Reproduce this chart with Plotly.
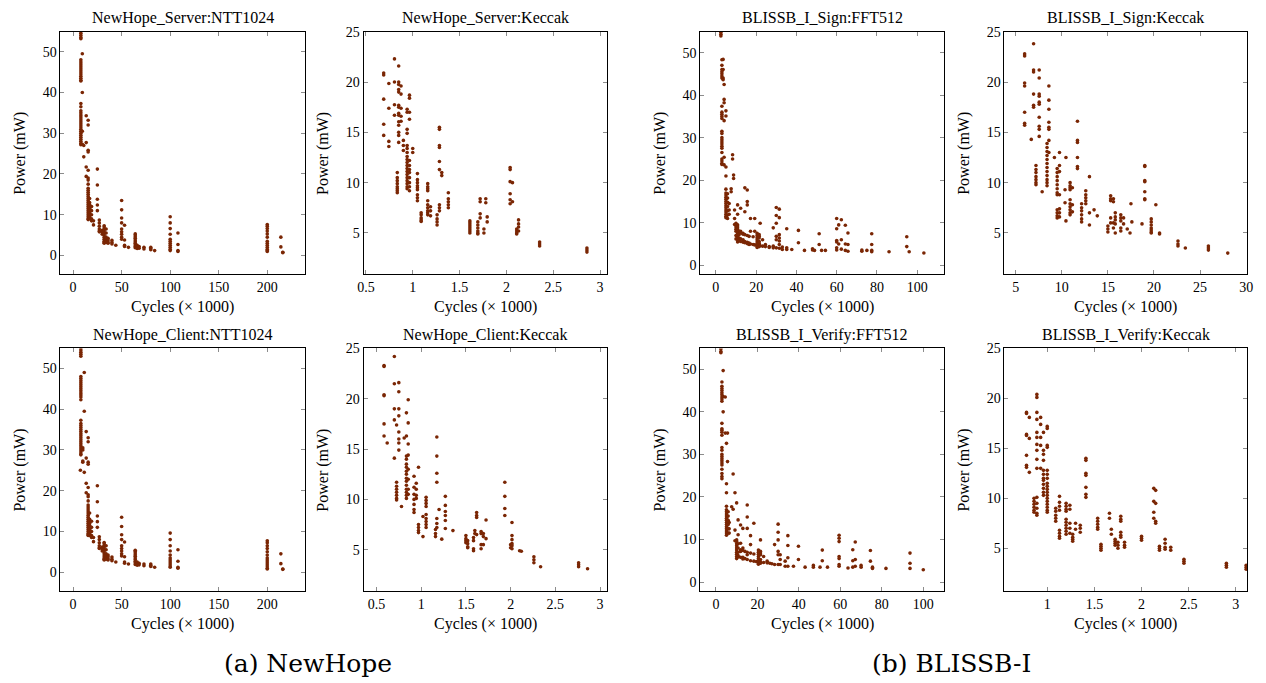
import plotly.graph_objects as go

# ---------------- data (columns: x position, list of power values) ----------------
NH_SERVER_NTT_X = [8, 9.5, 11, 13.5, 15.5, 17, 19, 21, 25, 27, 30, 32, 34, 36, 40, 44, 50, 53, 57,
                   64, 66, 68, 73, 80, 84, 100, 108, 200, 214, 216]
NH_SERVER_NTT_Y = [
    [55, 54.5, 54, 53.5, 53.2, 48, 47.5, 47, 46.5, 46, 45.5, 45, 44.5, 44, 43.5, 43, 42.8, 37.3, 36.5, 35.5,
     35, 34.5, 34, 33.5, 33, 32.5, 32, 31.5, 31, 30.5, 30, 29.5, 29, 28.5, 28, 27.5, 27.2],
    [49.5, 40, 30.5, 27.3],
    [24.2, 27],
    [34.3, 27.7, 21.7, 19.4],
    [33.2, 32, 25.8, 25.4, 20.9, 19, 18.5, 17.5, 16.5, 16, 15.5, 15, 14.5, 14, 13.5, 13, 12.5, 12, 11.5,
     11, 10.5, 10, 9.5, 9.0, 8.8],
    [14, 13, 12.5, 12, 11.5, 11, 10.5, 10, 9.5, 9],
    [12, 11, 10, 9, 8.5],
    [8.5, 7.5],
    [21.2, 17.3, 13.8, 12.4, 11],
    [8.7, 8, 7.2, 6.5, 6, 5.8],
    [6.2, 5.7, 5.2],
    [7.3, 7, 6.5, 6, 5.5, 5, 4.5, 4, 3.5, 3.2, 3],
    [6.5, 5.5, 4.5, 4, 3.5, 3.2],
    [4.2, 3.8, 3.3, 3],
    [3.7, 3.2, 2.8],
    [2.5],
    [13.5, 11.2, 9.2, 8, 6.5, 5.8, 5.2, 4.5, 4],
    [7.4, 3.8, 2.5, 2.2],
    [2.0],
    [5.3, 5.0, 4.6, 4.2, 3.8, 3.4, 3.0, 2.6, 2.2, 1.9],
    [2.5, 2.0, 1.7],
    [2.2, 1.8],
    [2.0, 1.6],
    [2.0, 1.7, 1.4],
    [1.2],
    [9.5, 8, 6.6, 5.2, 4, 3.5, 3, 2.5, 2, 1.5, 1.2],
    [5.5, 2.7, 1.2, 1.0],
    [7.6, 7.2, 6.6, 6.0, 5.3, 4.5, 3.5, 3.0, 2.5, 2.0, 1.5, 1.2, 1.0],
    [4.5, 2.1],
    [0.8, 0.7],
]

NH_SERVER_KEC_X = [0.69, 0.745, 0.805, 0.835, 0.85, 0.875, 0.9, 0.94, 0.965, 1.0, 1.05, 1.09, 1.16, 1.19,
                   1.26, 1.285, 1.31, 1.38, 1.61, 1.695, 1.72, 1.76, 1.78, 1.795, 2.04, 2.065, 2.11, 2.13,
                   2.355, 2.86]
NH_SERVER_KEC_Y = [
    [20.9, 20.7, 18.3, 15.8, 14.7],
    [19.85, 17.4, 14.1, 13.6],
    [22.3, 20.0, 17.75, 16.7],
    [11.0, 10.5, 10.2, 9.9, 9.6, 9.4, 9.2, 9.0],
    [21.6, 20.0, 19.75, 19.25, 19.0, 17.7, 17.5, 16.9, 16.7, 16.05, 15.7, 15.0, 14.7, 14.0],
    [19.6, 18.8, 17.4, 16.6, 16.1],
    [14.2, 13.7, 13.2],
    [17.3, 17.0, 15.3, 14.9, 13.7, 13.4, 13.0, 12.6, 12.3, 12.0, 11.7, 11.4, 11.1, 10.8, 10.5, 10.2, 9.9,
     9.6, 9.4],
    [18.7, 18.4, 17.0, 16.3, 12.2, 11.7, 11.3, 11.0, 10.5, 10.0, 9.6, 9.2],
    [13.4, 13.0],
    [10.9, 10.3, 10.0, 9.7, 9.5, 9.3, 8.8, 8.5, 8.2],
    [7.0, 6.8, 6.5, 6.3, 6.15],
    [9.9, 9.6, 9.4, 9.2, 8.2, 7.8, 7.5, 7.2, 7.0, 6.8],
    [7.6, 7.2, 6.7],
    [6.8, 6.4, 6.1, 5.8],
    [15.5, 15.3, 13.7, 13.5, 12.1, 11.3, 7.8, 7.5, 7.2],
    [11.0, 10.7],
    [9.0, 8.4, 8.1, 7.8, 7.5],
    [6.2, 6.0, 5.8, 5.6, 5.4, 5.2, 5.0],
    [6.1, 5.8, 5.5, 5.2, 5.0, 4.9],
    [8.4, 8.1, 6.9, 6.5],
    [5.4, 5.0],
    [8.4, 8.0],
    [6.6, 6.1],
    [11.5, 11.3, 10.1, 8.9, 8.3, 7.9],
    [10.0, 8.1],
    [5.4, 5.2, 5.0, 4.9],
    [6.3, 5.9, 5.6, 5.2],
    [4.1, 3.9, 3.7],
    [3.5, 3.3, 3.1],
]

BLISS_SIGN_FFT_X = [2.5, 3.0, 3.6, 4.1, 5.0, 5.8, 6.6, 7.6, 8.3, 8.8, 9.3, 10.0, 10.8, 11.5, 12.3, 13.5,
                    14.4, 15.6, 16.5, 17.2, 18.5, 19.3, 20.5, 21.5, 22.0, 23.2, 24.6, 26.5, 28.5, 30.0,
                    31.5, 33.0, 35.2, 37.7, 41.0, 44.0, 48.0, 49.0, 51.3, 52.5, 54.4, 60.0, 61.0, 62.3,
                    64.3, 65.6, 72.5, 75.0, 77.4, 86.0, 94.8, 96.0, 103.3]
BLISS_SIGN_FFT_Y = [
    [54.8, 54.3, 53.9],
    [48.3, 47.0, 46.0, 45.5, 45.0, 44.5, 44.0, 37.4, 36.0, 35.5, 35.0, 34.5, 31.5, 31.0, 30.0, 29.5, 29.0,
     28.5, 28.0, 27.5, 26.5, 25.0, 24.5, 24.0, 23.7],
    [48.4, 46.0, 44.0, 43.6],
    [42.5, 39.0, 38.2, 34.0, 25.4, 23.6],
    [36.3, 35.1, 23.1, 21.0, 17.9, 17.0, 16.5, 16.0, 15.5, 15.0, 14.5, 14.0, 13.5, 13.0, 12.5, 12.0, 11.5,
     11.2],
    [16.8, 15.8, 14.8, 13.8, 12.8, 11.8, 11.0],
    [14.5, 13.0, 12.0],
    [18.0, 17.3],
    [26.0, 25.0],
    [21.2, 20.4],
    [13.0, 11.0, 9.6],
    [9.9, 9.5, 9.0, 8.5, 8.0, 7.0, 6.2],
    [14.2, 12.0, 9.5, 9.0, 8.5, 8.0, 7.5, 7.0, 6.5, 6.0, 5.5],
    [8.0, 7.2, 6.4, 5.8],
    [13.4, 8.0, 7.6, 6.2, 5.6],
    [7.5, 7.3, 6.0, 5.4],
    [18.2, 12.6, 7.2, 5.6, 5.3],
    [17.7, 15.0, 14.2, 7.0, 5.4, 5.1],
    [6.8, 5.2, 4.9],
    [11.0, 8.0, 5.0],
    [6.7, 4.9],
    [11.0, 8.0, 4.8],
    [7.5, 7.0, 6.5, 6.0, 5.5, 5.0, 4.5, 4.2],
    [7.2, 6.8, 6.4, 5.6, 5.2, 4.8, 4.4],
    [9.9, 4.6],
    [6.0, 4.5],
    [4.9, 4.4],
    [4.4, 4.2],
    [8.8, 4.5, 4.1],
    [13.6, 11.7, 9.9, 6.8, 6.0, 4.1],
    [13.2, 11.2, 7.2, 6.4, 5.7, 4.9, 4.0],
    [4.3, 3.7],
    [8.6, 4.1, 3.7],
    [3.7],
    [8.2, 5.3],
    [3.5],
    [3.9, 3.6],
    [3.5],
    [7.4, 4.9],
    [3.5],
    [3.5],
    [11.0, 8.6, 5.8, 5.5, 4.1, 3.6],
    [9.5, 5.0],
    [10.7, 6.0, 3.8],
    [9.4, 5.0, 3.5],
    [7.6, 4.9, 3.3],
    [3.6, 3.3],
    [3.5],
    [7.4, 4.9, 3.5, 3.2],
    [3.2],
    [6.7, 4.4],
    [3.2],
    [2.9],
]

BLISS_SIGN_KEC_X = [5.97, 6.69, 6.94, 7.2, 7.55, 7.87, 8.4, 8.6, 9.2, 9.5, 9.75, 10.35, 10.45, 10.9, 11.15,
                    11.7, 12.15, 12.6, 13.0, 13.5, 13.85, 15.0, 15.3, 15.6, 15.8, 16.4, 16.7, 17.1, 17.4,
                    17.5, 17.6, 18.7, 19.0, 19.7, 20.2, 20.6, 22.6, 23.4, 25.9, 28.0]
BLISS_SIGN_KEC_Y = [
    [22.8, 22.6, 19.9, 19.6, 17.0, 15.9, 15.7],
    [14.3],
    [23.8, 21.2, 21.0, 18.8, 17.7, 17.5],
    [11.7, 11.3, 11.0, 10.6, 10.3, 10.0, 9.8],
    [21.2, 20.4, 18.8, 18.6, 18.0, 17.8, 16.5, 15.6, 15.3, 14.6],
    [9.1],
    [13.9, 13.5, 13.1, 12.7, 12.3, 11.9, 11.5, 11.1, 10.7, 10.3, 10.0, 9.7],
    [19.6, 18.2, 17.3, 16.0, 15.5, 15.3, 14.2, 13.0],
    [12.5],
    [11.4, 11.0, 10.6, 10.2, 9.8, 9.4, 9.0, 8.8, 7.3, 7.0, 6.7, 6.5],
    [13.0, 11.7, 11.1, 8.8, 7.4, 7.0, 6.6],
    [9.3, 8.0],
    [12.5, 6.2],
    [10.0, 9.7, 9.5, 9.3, 8.3, 7.9, 7.6, 7.3, 7.0, 6.8],
    [9.5, 7.8, 7.1],
    [16.1, 14.2, 14.0, 12.5, 11.6, 11.4],
    [7.9, 7.5, 7.2, 6.8, 6.4, 6.1],
    [9.2, 8.8, 8.5, 8.2, 7.9],
    [10.6, 7.0, 5.8],
    [7.3],
    [6.7],
    [5.7, 5.4, 5.1],
    [8.7, 8.4, 8.2, 6.5, 6.0],
    [8.4, 8.1, 6.0, 5.5],
    [7.0, 6.6, 6.3, 5.9, 5.0],
    [6.8, 6.5, 6.2, 5.5, 5.2],
    [6.5, 5.9],
    [5.4],
    [5.0],
    [7.9],
    [6.1],
    [5.9],
    [11.7, 11.6, 10.2, 10.1, 9.1, 8.4, 8.3],
    [6.4, 6.1, 5.8, 5.5, 5.3, 5.1, 5.0],
    [7.8],
    [5.0, 4.9],
    [4.2, 3.9, 3.7],
    [3.5],
    [3.7, 3.5, 3.3],
    [3.0],
]

NH_CLIENT_NTT_X = [7.5, 8, 10, 11.5, 13.5, 15.5, 17, 19, 21, 25, 27, 30, 32, 34, 36, 40, 44, 50, 53, 57,
                   64, 66, 68, 73, 80, 84, 100, 108, 200, 214, 216]
NH_CLIENT_NTT_Y = [
    [25],
    [55, 54.5, 54, 53.5, 53, 48, 47.5, 47, 46.5, 46, 45.5, 45, 44.5, 44, 43.5, 43, 42.3, 37.3, 36.5, 36,
     35.5, 35, 34.5, 34, 33.5, 33, 32.5, 32, 31.5, 31, 30.5, 30, 29.5, 29, 28.8],
    [30.5, 30, 27.3, 27],
    [49, 39.5, 24.5],
    [34.5, 28, 21.8, 19.5],
    [33, 32, 27, 26.5, 20.8, 19, 18.5, 17.5, 16.5, 16, 15.5, 15, 14.5, 14, 13.5, 13, 12.5, 12, 11.5, 11,
     10.5, 10, 9.5, 9.2, 9],
    [14.5, 13, 12.5, 12, 11.5, 11, 10.5, 10, 9.5, 9],
    [12.5, 11, 10, 9, 8.5],
    [8.5, 7.5],
    [21.2, 17.3, 13.8, 12.4, 11],
    [8.7, 8, 7.2, 6.5, 6, 5.8],
    [6.2, 5.7, 5.2],
    [7.3, 7, 6.5, 6, 5.5, 5, 4.5, 4, 3.5, 3.2, 3],
    [6.5, 5.5, 4.5, 4, 3.5, 3.2],
    [4.2, 3.8, 3.3, 3],
    [3.7, 3.2, 2.8],
    [2.5],
    [13.5, 11.2, 9.2, 8, 6.5, 5.8, 5.2, 4.5, 4],
    [7.4, 3.8, 2.5, 2.2],
    [2.0],
    [5.4, 5.1, 4.7, 4.3, 3.9, 3.5, 3.1, 2.7, 2.3, 1.9],
    [2.5, 2.0, 1.7],
    [2.2, 1.8],
    [2.0, 1.6],
    [2.0, 1.7, 1.4],
    [1.2],
    [9.6, 8, 6.5, 5.2, 4.2, 3.5, 3, 2.5, 2, 1.5, 1.2],
    [5.5, 2.7, 1.2, 1.0],
    [7.7, 7.2, 6.5, 5.8, 5.0, 4.2, 3.5, 3.0, 2.5, 2.0, 1.5, 1.0, 0.8],
    [4.5, 2.1],
    [0.8, 0.7],
]

NH_CLIENT_KEC_X = [0.585, 0.62, 0.70, 0.725, 0.75, 0.78, 0.81, 0.835, 0.855, 0.92, 0.945, 0.97, 1.02,
                   1.055, 1.16, 1.175, 1.2, 1.23, 1.27, 1.355, 1.5, 1.52, 1.585, 1.6, 1.62, 1.67, 1.695,
                   1.725, 1.935, 2.0, 2.015, 2.1, 2.12, 2.26, 2.335, 2.76, 2.86]
NH_CLIENT_KEC_Y = [
    [23.3, 23.2, 20.4, 20.3, 17.5, 16.3],
    [15.6],
    [24.2, 21.5, 19.0, 17.9, 14.1],
    [17.4, 11.7, 11.3, 11.0, 10.7, 10.4, 10.1, 9.95],
    [21.6, 20.7, 19.0, 18.3, 16.7, 16.0, 15.6, 14.9],
    [9.3],
    [16.1],
    [18.6, 16.3, 14.3, 14.0, 13.5, 13.2, 12.8, 12.5, 12.1, 11.8, 11.4, 11.0, 10.7, 10.4, 10.1],
    [19.9, 17.6, 15.5, 14.4, 13.0, 12.0, 11.0, 10.5],
    [12.3, 11.2, 10.5, 10.0, 9.5, 9.0, 8.7],
    [11.6, 11.0, 10.4, 10.1],
    [13.2, 7.5, 7.2, 6.9, 6.7],
    [8.3, 6.3],
    [10.2, 9.9, 9.6, 9.3, 8.5, 8.1, 7.8, 7.5, 7.2],
    [7.0, 6.6, 6.3],
    [16.2, 14.3, 12.6, 11.7, 8.1, 7.6, 7.2],
    [9.0],
    [6.05],
    [10.3, 9.4, 8.8, 8.4, 7.9, 7.1],
    [6.9],
    [6.4, 6.1, 5.9, 5.7],
    [5.9, 5.6, 5.3, 5.2],
    [6.2, 5.9, 5.1, 4.9],
    [6.9, 6.6],
    [8.7, 8.4, 8.2, 6.5],
    [6.8, 6.6, 5.5, 5.1],
    [6.6, 6.3, 5.5],
    [7.95, 6.1],
    [11.7, 10.3, 9.1, 8.4],
    [5.5, 5.2],
    [7.7, 6.4, 6.0, 5.6, 5.4, 5.1],
    [4.9],
    [4.85],
    [4.3, 4.0, 3.7],
    [3.3],
    [3.7, 3.5, 3.3],
    [3.1],
]

BLISS_VERIFY_FFT_X = [2.4, 2.9, 3.5, 4.5, 5.1, 5.6, 5.9, 6.4, 7.6, 8.3, 9.2, 10.0, 10.7, 11.9, 13.0, 14.0,
                      15.1, 16.7, 18.3, 19.5, 20.5, 21.5, 23.0, 24.7, 26.0, 27.0, 28.3, 30.0, 31.0, 33.4,
                      34.7, 37.4, 39.8, 43.0, 47.0, 50.2, 51.3, 53.8, 59.4, 63.7, 66.0, 67.2, 70.0, 74.5,
                      75.5, 82.0, 93.6, 100.0]
BLISS_VERIFY_FFT_Y = [
    [54.8, 54.2, 53.9],
    [47.0, 46.0, 45.5, 45.0, 44.5, 44.0, 43.5, 43.0, 42.5, 37.3, 36.0, 35.7, 35.2, 34.5, 31.6, 31.0, 30.0,
     29.5, 29.0, 28.5, 28.0, 27.5, 26.5, 25.5, 24.8, 24.3],
    [49.7, 43.6, 40.0],
    [43.5, 35.0],
    [32.6, 23.1, 21.0, 17.8, 17.0, 16.5, 16.0, 15.5, 15.0, 14.5, 14.0, 13.5, 13.0, 12.5, 12.0, 11.5, 11.0],
    [35.0, 28.3],
    [16.5, 15.5, 14.5, 13.5, 12.5, 11.5],
    [14.0, 12.5, 11.5],
    [17.7],
    [25.4, 17.1],
    [21.0, 12.2, 9.7],
    [18.6, 9.9, 9.5, 9.0, 8.5, 8.0, 7.5, 7.0, 6.5, 6.0, 5.5],
    [14.6, 11.1, 9.0, 8.0, 7.0, 6.2, 5.9],
    [13.4, 9.1, 7.6, 7.2, 5.8],
    [12.6, 8.0, 7.4, 5.8, 5.4],
    [7.2, 5.5],
    [18.1, 15.3, 12.6, 7.0, 6.4, 5.3],
    [10.9, 8.8, 6.8, 5.0],
    [13.8, 6.6, 4.9],
    [4.8],
    [7.5, 7.0, 6.5, 6.0, 5.5, 5.0, 4.5, 4.2],
    [9.9, 7.2, 6.8, 6.4, 5.3, 4.7, 4.4],
    [6.0, 4.6],
    [4.9, 4.5],
    [4.4],
    [4.3],
    [8.8, 4.1],
    [13.6, 11.7, 9.9, 7.2, 6.4, 4.1],
    [6.4, 5.3, 4.1],
    [4.9, 3.7],
    [10.9, 8.6, 5.7, 3.7],
    [3.7],
    [8.4, 5.3],
    [3.5],
    [3.9, 3.5],
    [3.5],
    [7.5, 5.0],
    [3.5],
    [11.0, 10.3, 9.5, 6.0, 5.5, 4.1, 3.7],
    [3.3],
    [7.6, 5.0, 3.5],
    [9.4, 5.3, 3.7],
    [3.9, 3.5],
    [7.4, 4.9],
    [3.5, 3.2],
    [3.2],
    [6.8, 4.4, 3.2],
    [2.9],
]

BLISS_VERIFY_KEC_X = [0.78, 0.81, 0.86, 0.89, 0.93, 0.96, 1.0, 1.09, 1.13, 1.2, 1.24, 1.27, 1.3, 1.35,
                      1.41, 1.535, 1.57, 1.66, 1.68, 1.72, 1.75, 1.78, 1.82, 2.0, 2.13, 2.15, 2.19, 2.25,
                      2.31, 2.45, 2.9, 3.11]
BLISS_VERIFY_KEC_Y = [
    [18.6, 18.5, 16.4, 16.3, 14.3, 13.3, 13.1],
    [18.1, 16.0, 12.6],
    [10.0, 9.7, 9.4, 9.1, 8.8, 8.6],
    [20.4, 20.1, 18.6, 17.9, 16.6, 16.1, 15.4, 14.8, 13.9, 13.0, 10.1, 9.5, 9.0, 8.5, 8.3],
    [18.1, 17.4, 16.1, 15.3, 13.0],
    [16.6, 14.8, 14.4, 13.8, 12.8, 12.4, 12.0, 11.8, 11.4, 11.0, 10.6, 10.3],
    [17.2, 17.0, 15.3, 15.1, 12.8, 12.4, 12.0, 11.5, 11.2, 10.9, 10.6, 10.3, 10.0, 9.7, 9.4, 9.1, 8.8, 8.6],
    [9.0, 8.7, 8.3, 8.0, 7.7],
    [10.2, 9.6, 9.2, 8.8, 6.8, 6.5, 6.2, 6.0],
    [9.5, 9.2, 8.9, 8.7, 7.9, 7.6, 7.3, 7.0, 6.7, 6.4],
    [9.3, 8.9, 7.5, 7.0, 6.5],
    [6.4, 6.1, 5.9, 5.7],
    [7.5, 6.9],
    [7.3, 7.0, 6.6],
    [14.0, 13.8, 12.5, 12.3, 11.1, 10.4, 10.1],
    [8.0, 7.7, 7.4, 7.1, 6.9],
    [5.4, 5.2, 5.0, 4.8],
    [8.5, 8.0],
    [6.9, 6.4],
    [5.9, 5.7, 5.5, 5.3],
    [5.6, 5.3, 5.0],
    [8.2, 7.9, 7.7, 6.6, 6.3, 6.1],
    [5.6, 5.3, 5.1],
    [6.2, 6.0, 5.8],
    [11.0, 9.7, 8.6, 8.0],
    [10.8, 9.5, 7.7, 7.5],
    [5.2, 5.0, 4.8],
    [5.9, 5.5, 5.1, 4.9],
    [5.1, 4.8],
    [3.9, 3.7, 3.5],
    [3.5, 3.3, 3.1],
    [3.3, 3.1, 2.9],
]

TITLES = ["NewHope_Server:NTT1024", "NewHope_Server:Keccak", "BLISSB_I_Sign:FFT512", "BLISSB_I_Sign:Keccak",
          "NewHope_Client:NTT1024", "NewHope_Client:Keccak", "BLISSB_I_Verify:FFT512", "BLISSB_I_Verify:Keccak"]
X_LABEL = "Cycles (× 1000)"
Y_LABEL = "Power (mW)"
CAPTIONS = ["(a) NewHope", "(b) BLISSB-I"]

NTT_XT = [0, 50, 100, 150, 200]
FFT_XT = [0, 20, 40, 60, 80, 100]
KEC_NH_XT = [0.5, 1, 1.5, 2, 2.5, 3]
KEC_BS_XT = [5, 10, 15, 20, 25, 30]
KEC_BV_XT = [1, 1.5, 2, 2.5, 3]
P50_YT = [0, 10, 20, 30, 40, 50]
P25_YT = [5, 10, 15, 20, 25]

# ---------------- layout ----------------
W, H = 1266, 683
COLOR = "rgb(122,38,4)"
FONT = "Liberation Serif, Times New Roman, serif"

panels = [
    (NH_SERVER_NTT_X, NH_SERVER_NTT_Y, (55, 302, 25, 270), [-13, 239], [-4.6, 54.9], NTT_XT, P50_YT),
    (NH_SERVER_KEC_X, NH_SERVER_KEC_Y, (361, 607, 25, 270), [0.475, 3.077], [0.9, 25], KEC_NH_XT, P25_YT),
    (BLISS_SIGN_FFT_X, BLISS_SIGN_FFT_Y, (701, 947, 25, 270), [-7.7, 113.3], [-2.1, 54.9], FFT_XT, P50_YT),
    (BLISS_SIGN_KEC_X, BLISS_SIGN_KEC_Y, (1008, 1253, 25, 270), [3.78, 30.1], [0.9, 25], KEC_BS_XT, P25_YT),
    (NH_CLIENT_NTT_X, NH_CLIENT_NTT_Y, (55, 302, 345, 590), [-13, 239], [-4.6, 54.9], NTT_XT, P50_YT),
    (NH_CLIENT_KEC_X, NH_CLIENT_KEC_Y, (361, 607, 345, 590), [0.356, 3.08], [0.9, 25], KEC_NH_XT, P25_YT),
    (BLISS_VERIFY_FFT_X, BLISS_VERIFY_FFT_Y, (701, 947, 345, 590), [-7.5, 110], [-2.1, 54.9], FFT_XT, P50_YT),
    (BLISS_VERIFY_KEC_X, BLISS_VERIFY_KEC_Y, (1008, 1253, 345, 590), [0.546, 3.12], [0.73, 25], KEC_BV_XT, P25_YT),
]


def fmt(v):
    return f"{v:g}"


fig = go.Figure()
annotations = []
axis_common = dict(showline=True, linecolor="black", linewidth=1, mirror="ticks", ticks="inside",
                   ticklen=4, tickwidth=1, tickcolor="#8c8c8c", showgrid=False, zeroline=False,
                   tickfont=dict(family=FONT, size=14, color="black"), fixedrange=True)
label_font = dict(family=FONT, size=16, color="black")

for i, (cx, cy, box, xr, yr, xt, yt) in enumerate(panels, start=1):
    xs, ys = [], []
    for xv, col in zip(cx, cy):
        for yv in col:
            xs.append(xv)
            ys.append(yv)
    fig.add_trace(go.Scatter(x=xs, y=ys, mode="markers", xaxis=f"x{i}", yaxis=f"y{i}",
                             marker=dict(color=COLOR, size=3.6), showlegend=False,
                             cliponaxis=True))
    l, r, t, b = box
    fig.layout[f"xaxis{i}"] = dict(axis_common, domain=[l / W, r / W], range=xr, anchor=f"y{i}",
                                   tickvals=xt, ticktext=[fmt(v) for v in xt])
    fig.layout[f"yaxis{i}"] = dict(axis_common, domain=[1 - b / H, 1 - t / H], range=yr, anchor=f"x{i}",
                                   tickvals=yt, ticktext=[fmt(v) for v in yt])
    cxp = (l + r) / 2
    annotations.append(dict(text=TITLES[i - 1], x=cxp / W, y=1 - (t - 14) / H, xref="paper", yref="paper",
                            showarrow=False, font=label_font, xanchor="center", yanchor="middle"))
    annotations.append(dict(text=X_LABEL, x=cxp / W, y=1 - (b + 33) / H, xref="paper", yref="paper",
                            showarrow=False, font=label_font, xanchor="center", yanchor="middle"))
    annotations.append(dict(text=Y_LABEL, x=(l - 41) / W, y=1 - ((t + b) / 2) / H, xref="paper",
                            yref="paper", showarrow=False, textangle=-90, font=label_font,
                            xanchor="center", yanchor="middle"))

cap_font = dict(family="DejaVu Serif", size=25, color="black")
annotations.append(dict(text=CAPTIONS[0], x=305 / W, y=1 - 663 / H, xref="paper", yref="paper",
                        showarrow=False, font=cap_font, xanchor="center", yanchor="middle"))
annotations.append(dict(text=CAPTIONS[1], x=955 / W, y=1 - 663 / H, xref="paper", yref="paper",
                        showarrow=False, font=cap_font, xanchor="center", yanchor="middle"))

fig.update_layout(width=W, height=H, margin=dict(l=0, r=0, t=0, b=0), paper_bgcolor="white",
                  plot_bgcolor="white", annotations=annotations)

fig.write_html("out.html", config={"displayModeBar": False},
               post_script="document.body.style.margin='0';document.body.style.overflow='hidden';")
